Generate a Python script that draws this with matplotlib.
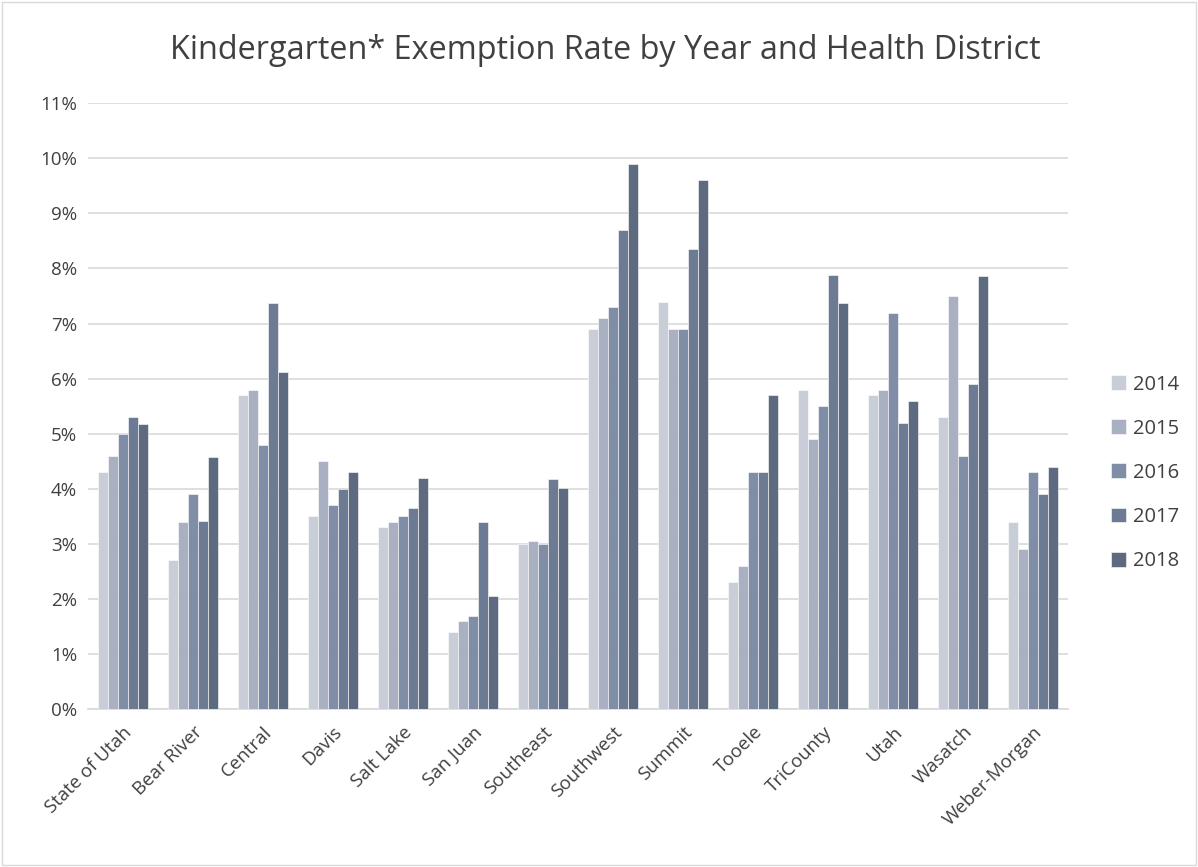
import numpy as np
import matplotlib.pyplot as plt
from matplotlib.ticker import PercentFormatter
from matplotlib.patches import Rectangle

districts = ["State of Utah", "Bear River", "Central", "Davis", "Salt Lake", "San Juan",
             "Southeast", "Southwest", "Summit", "Tooele", "TriCounty", "Utah",
             "Wasatch", "Weber-Morgan"]
years = ["2014", "2015", "2016", "2017", "2018"]

rate_2014 = [4.3, 2.7, 5.7, 3.5, 3.3, 1.4, 3.0, 6.9, 7.4, 2.3, 5.8, 5.7, 5.3, 3.4]
rate_2015 = [4.6, 3.4, 5.8, 4.5, 3.4, 1.6, 3.05, 7.1, 6.9, 2.6, 4.9, 5.8, 7.5, 2.9]
rate_2016 = [5.0, 3.9, 4.8, 3.7, 3.5, 1.7, 3.0, 7.3, 6.9, 4.3, 5.5, 7.2, 4.6, 4.3]
rate_2017 = [5.3, 3.42, 7.37, 4.0, 3.65, 3.4, 4.18, 8.7, 8.36, 4.3, 7.88, 5.2, 5.9, 3.9]
rate_2018 = [5.18, 4.58, 6.12, 4.3, 4.2, 2.05, 4.02, 9.9, 9.6, 5.7, 7.38, 5.6, 7.87, 4.4]

colors = ["#c8cdd7", "#a8b0c1", "#7f8da7", "#6d7a93", "#5d6a80"]

fig = plt.figure(figsize=(11.98, 8.67), dpi=100)
plt.rcParams['font.family'] = ['Open Sans', 'DejaVu Sans']
ax = fig.add_axes([0.0735, 0.182, 0.818, 0.699])

x = np.arange(len(districts))
w = 0.143
series = [rate_2014, rate_2015, rate_2016, rate_2017, rate_2018]
for i, (vals, yr) in enumerate(zip(series, years)):
    ax.bar(x + (i - 2) * w, vals, width=w, color=colors[i], label=yr,
           edgecolor="white", linewidth=0.4, zorder=3)

ax.set_ylim(0, 11)
ax.set_yticks(np.arange(0, 12, 1))
ax.yaxis.set_major_formatter(PercentFormatter(decimals=0))
ax.set_xlim(-0.5, len(districts) - 0.5)
ax.set_xticks(x)
ax.set_xticklabels(districts, rotation=45, ha="right", rotation_mode="anchor")
ax.grid(axis="y", color="#d9d9d9", linewidth=1.2, zorder=0)
for s in ["top", "right", "left"]:
    ax.spines[s].set_visible(False)
ax.spines["bottom"].set_color("#d9d9d9")
ax.spines["bottom"].set_linewidth(1.2)
ax.tick_params(axis="both", length=0, labelsize=13.5, colors="#404040", pad=8)
ax.tick_params(axis="x", pad=10)

fig.text(0.505, 0.942, "Kindergarten* Exemption Rate by Year and Health District",
         fontsize=23.3, color="#404040", ha="center", va="center")

leg = ax.legend(loc="center left", bbox_to_anchor=(1.025, 0.39), frameon=False,
                fontsize=14.5, labelcolor="#404040", handlelength=0.75,
                handleheight=0.75, labelspacing=1.2, handletextpad=0.35)

fig.patches.append(Rectangle((0.002, 0.002), 0.996, 0.996, transform=fig.transFigure,
                             fill=False, edgecolor="#d9d9d9", linewidth=1))

fig.savefig("out.png", dpi=100)
